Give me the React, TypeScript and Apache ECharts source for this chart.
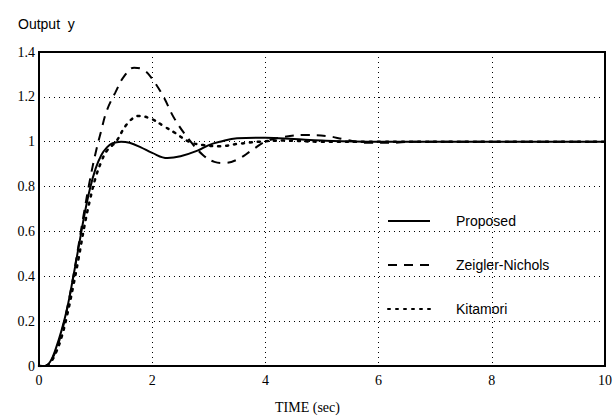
import React, { useEffect, useRef } from "react";
import * as echarts from "echarts";

const xTicks = [0, 2, 4, 6, 8, 10];
const yTicks = [0, 0.2, 0.4, 0.6, 0.8, 1, 1.2, 1.4];

const proposedT = [0, 0.1, 0.2, 0.3, 0.4, 0.5, 0.6, 0.7, 0.8, 0.9, 1.0, 1.1, 1.2, 1.3, 1.45, 1.6, 1.8, 2.0, 2.27, 2.5, 2.8, 3.0, 3.2, 3.5, 4.0, 4.5, 5, 6, 7, 8, 10];
const proposedY = [0, 0.0, 0.02, 0.08, 0.16, 0.26, 0.39, 0.53, 0.67, 0.79, 0.88, 0.94, 0.975, 0.993, 1.0, 0.995, 0.975, 0.95, 0.927, 0.935, 0.96, 0.985, 1.0, 1.015, 1.018, 1.012, 1.005, 1.0, 1.0, 1.0, 1.0];

const znT = [0, 0.1, 0.2, 0.3, 0.4, 0.5, 0.6, 0.7, 0.8, 0.9, 1.0, 1.1, 1.2, 1.35, 1.5, 1.68, 1.85, 2.0, 2.2, 2.4, 2.68, 2.9, 3.1, 3.27, 3.5, 3.75, 4.0, 4.3, 4.7, 5.1, 5.4, 5.8, 6.2, 6.6, 7, 8, 10];
const znY = [0, 0, 0.02, 0.07, 0.15, 0.26, 0.39, 0.54, 0.69, 0.83, 0.95, 1.05, 1.14, 1.22, 1.29, 1.33, 1.32, 1.28, 1.2, 1.1, 1.0, 0.94, 0.91, 0.905, 0.92, 0.96, 1.0, 1.02, 1.03, 1.025, 1.01, 0.995, 0.995, 1.0, 1.0, 1.0, 1.0];

const kitT = [0, 0.1, 0.2, 0.3, 0.4, 0.5, 0.6, 0.7, 0.8, 0.9, 1.0, 1.1, 1.2, 1.36, 1.56, 1.77, 2.0, 2.2, 2.4, 2.65, 2.9, 3.2, 3.5, 3.9, 4.3, 5, 6, 8, 10];
const kitY = [0, 0, 0.015, 0.06, 0.13, 0.23, 0.35, 0.48, 0.62, 0.74, 0.84, 0.91, 0.96, 1.0, 1.08, 1.115, 1.1, 1.07, 1.04, 1.0, 0.985, 0.98, 0.99, 1.0, 1.005, 1.0, 1.0, 1.0, 1.0];

const seriesNames = ["Proposed", "Zeigler-Nichols", "Kitamori"];

const zip = (t: number[], y: number[]) => t.map((v, i) => [v, y[i]]);

export default function App() {
  const ref = useRef<HTMLDivElement>(null);
  useEffect(() => {
    if (!ref.current) return;
    const chart = echarts.init(ref.current, undefined, { renderer: "svg" });
    const serif = "Liberation Serif";
    const sans = "Liberation Sans";
    chart.setOption({
      animation: false,
      backgroundColor: "#fff",
      grid: {
        left: 39,
        right: 8,
        top: 52,
        bottom: 53,
        show: true,
        borderColor: "#000",
        borderWidth: 2,
      },
      title: [
        {
          text: "Output  y",
          left: 13,
          top: 12,
          textStyle: { fontFamily: sans, fontSize: 14, fontWeight: "normal", color: "#000" },
        },
      ],
      graphic: [
        {
          type: "text",
          left: "center",
          top: 400,
          style: { text: "TIME (sec)", font: `14px '${serif}'`, fill: "#000" },
          x: 10,
        },
      ],
      legend: {
        orient: "vertical",
        left: 382,
        top: 209,
        itemWidth: 42,
        itemHeight: 14,
        itemGap: 30,
        data: seriesNames,
        itemStyle: { opacity: 0 },
        textStyle: { fontFamily: sans, fontSize: 14, color: "#000", padding: [0, 0, 0, 21] },
      },
      xAxis: {
        type: "value",
        min: 0,
        max: 10,
        interval: 2,
        axisLine: { show: true, lineStyle: { color: "#000", width: 2 } },
        axisTick: { show: false },
        axisLabel: { fontFamily: serif, fontSize: 14, color: "#000", margin: 7 },
        splitLine: { show: true, lineStyle: { color: "#000", type: [1, 4], width: 1 } },
      },
      yAxis: {
        type: "value",
        min: 0,
        max: 1.4,
        interval: 0.2,
        axisLine: { show: true, lineStyle: { color: "#000", width: 2 } },
        axisTick: { show: false },
        axisLabel: {
          fontFamily: serif,
          fontSize: 14,
          color: "#000",
          margin: 4,
          formatter: (v: number) => {
            const r = Math.round(v * 10) / 10;
            return yTicks.includes(r) ? String(r) : "";
          },
        },
        splitLine: { show: true, lineStyle: { color: "#000", type: [1, 4], width: 1 } },
      },
      series: [
        {
          name: seriesNames[0],
          type: "line",
          smooth: 0.4,
          showSymbol: false,
          symbol: "none",
          data: zip(proposedT, proposedY),
          lineStyle: { color: "#000", width: 2, type: "solid" },
          itemStyle: { color: "#000" },
          z: 3,
        },
        {
          name: seriesNames[1],
          type: "line",
          smooth: 0.4,
          showSymbol: false,
          symbol: "none",
          data: zip(znT, znY),
          lineStyle: { color: "#000", width: 2, type: [9, 7] },
          itemStyle: { color: "#000" },
          z: 3,
        },
        {
          name: seriesNames[2],
          type: "line",
          smooth: 0.4,
          showSymbol: false,
          symbol: "none",
          data: zip(kitT, kitY),
          lineStyle: { color: "#000", width: 2.5, type: [2, 6], cap: "round" },
          itemStyle: { color: "#000" },
          z: 3,
        },
      ],
    });
    return () => chart.dispose();
  }, []);
  return <div ref={ref} style={{ width: 615, height: 419, position: "absolute", left: 0, top: 0 }} />;
}
